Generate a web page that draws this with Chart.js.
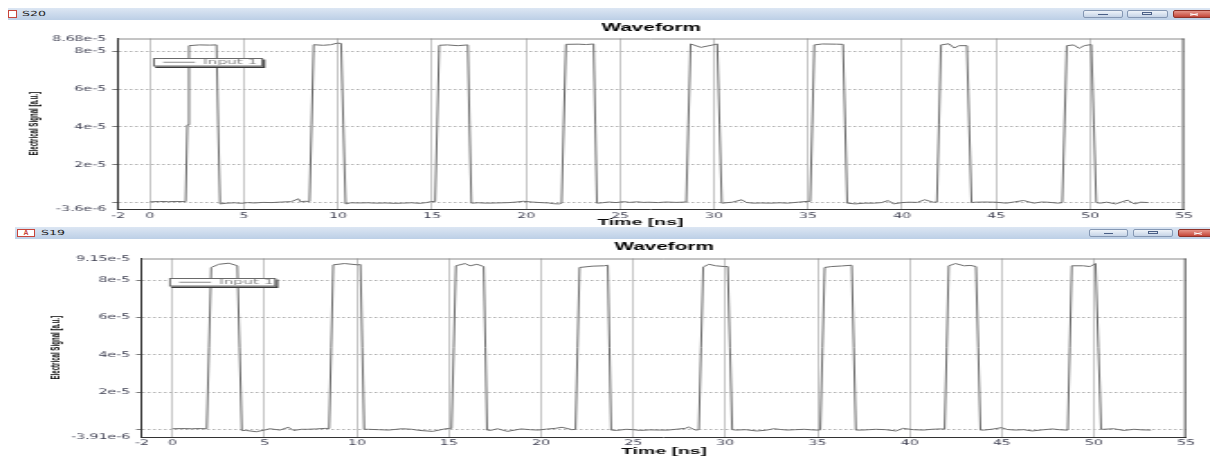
<!DOCTYPE html>
<html>
<head>
<meta charset="utf-8">
<title>Waveform S20 / S19</title>
<script src="https://cdn.jsdelivr.net/npm/chart.js@4.4.0/dist/chart.umd.min.js"></script>
<style>
  body { margin: 0; width: 1210px; height: 457px; background: #fff; overflow: hidden; position: relative; font-family: 'DejaVu Sans', sans-serif; }
  .bar { position: absolute; right: 0; background: linear-gradient(#dce6f3, #bccfe6); }
  .icon { position: absolute; background: #fff; border: 1px solid #c8453a; box-sizing: border-box; color: #c8453a; font: bold 7px 'Liberation Sans', sans-serif; line-height: 6px; text-align: center; }
  .cap { position: absolute; font-size: 7px; line-height: 8px; color: #222; transform: scaleX(1.8); transform-origin: 0 0; }
  .btn { position: absolute; height: 8px; box-sizing: border-box; border: 1px solid #8497b3; border-radius: 2px; background: linear-gradient(#eef3f9, #c6d4e7); }
  .btn.min::after { content: ''; position: absolute; left: 38%; width: 24%; top: 3px; height: 1px; background: #4a5f86; }
  .btn.max::after { content: ''; position: absolute; left: 36%; width: 26%; top: 1px; height: 3px; border: 1px solid #4a5f86; box-sizing: border-box; }
  .btn.close { border-color: #8e3128; background: linear-gradient(#e6958a, #c4473a); }
  .btn.close::before, .btn.close::after { content: ''; position: absolute; left: 40%; width: 20%; top: 2.5px; height: 1.2px; background: #fff; }
  .btn.close::before { transform: rotate(12deg); }
  .btn.close::after { transform: rotate(-12deg); }
  .plot { position: absolute; left: 0; width: 672px; transform: scaleX(1.8006); transform-origin: 0 0; }
</style>
</head>
<body>
  <div class="plot" style="top:20px; height:210px;"><canvas id="s20Chart"></canvas></div>
  <div class="bar" style="left:8px; top:8px; height:12px;"></div>
  <div class="icon" style="left:8px; top:10px; width:9px; height:8px;"></div>
  <div class="cap" style="left:22px; top:10px;">S20</div>
  <div class="btn min" style="left:1083px; top:10px; width:40px;"></div>
  <div class="btn max" style="left:1127px; top:10px; width:41px;"></div>
  <div class="btn close" style="left:1173px; top:10px; width:42px;"></div>

  <div class="plot" style="top:239px; height:218px;"><canvas id="s19Chart"></canvas></div>
  <div class="bar" style="left:15px; top:227px; height:11.5px;"></div>
  <div class="icon" style="left:17px; top:229px; width:18px; height:8px;">A</div>
  <div class="cap" style="left:41px; top:229px;">S19</div>
  <div class="btn min" style="left:1089px; top:229px; width:39px;"></div>
  <div class="btn max" style="left:1133px; top:229px; width:40px;"></div>
  <div class="btn close" style="left:1178px; top:229px; width:40px;"></div>

<script>
const xAxisTitle = 'Time [ns]';
const yAxisTitle = 'Electrical Signal [a.u.]';

// Tick positions and labels (the left edge of each plot is labelled "-2")
const xTickLabels = ['-2', '0', '5', '10', '15', '20', '25', '30', '35', '40', '45', '50', '55'];
const s20XTicks = [-1.7, 0, 5, 10, 15, 20, 25, 30, 35, 40, 45, 50, 55];
const s19XTicks = [-1.65, 0, 5, 10, 15, 20, 25, 30, 35, 40, 45, 50, 55];

const s20YTicks = [-3.6e-6, 0, 2e-5, 4e-5, 6e-5, 8e-5, 8.68e-5];
const s20YLabels = ['-3.6e-6', '', '2e-5', '4e-5', '6e-5', '8e-5', '8.68e-5'];
const s19YTicks = [-3.91e-6, 0, 2e-5, 4e-5, 6e-5, 8e-5, 9.15e-5];
const s19YLabels = ['-3.91e-6', '', '2e-5', '4e-5', '6e-5', '8e-5', '9.15e-5'];

// Waveform samples: [time ns, signal in 1e-6 a.u.]
const s20Points = [
  [0, 0.2], [0.5, 0.4], [0.97, 0.3], [1.4, 0.4], [1.89, 0.3], [1.98, 41], [2.07, 83.0], [2.62, 83.4], [3.17, 83.3], [3.53, 83.4],
  [3.62, 41], [3.72, -0.9], [4.08, -0.5], [4.5, -0.3], [4.82, -0.6], [5.2, -0.2], [5.55, -0.4], [6.0, -0.1], [6.47, -0.2], [7.0, 0.1],
  [7.5, 0.3], [7.89, 1.8], [8.0, 0.2], [8.21, 0.5], [8.48, 0.4], [8.59, 41], [8.70, 83.5], [9.21, 83.2], [9.6, 83.5], [9.95, 84.3],
  [10.16, 84.2], [10.28, 41], [10.40, -0.9], [10.68, -0.3], [11.1, -0.4], [11.59, -0.3], [12.0, -0.5], [12.51, -0.4], [13.0, -0.6], [13.42, -0.5],
  [13.9, -0.3], [14.34, -0.6], [14.7, -0.2], [14.98, 0.4], [15.16, 0.3], [15.27, 41], [15.38, 83.2], [15.81, 83.4], [16.36, 83.0], [16.90, 83.4],
  [16.99, 41], [17.09, -0.5], [17.45, -0.3], [17.9, -0.5], [18.37, -0.4], [18.8, -0.3], [19.10, -0.2], [19.5, 0.1], [19.84, 0.5], [20.3, 0.1],
  [20.75, -0.2], [21.2, -0.4], [21.48, -0.8], [21.76, -0.9], [21.89, -0.5], [22.0, 41], [22.12, 83.7], [22.77, 83.8], [23.2, 83.6], [23.59, 83.9],
  [23.68, 41], [23.77, -0.5], [24.05, -0.3], [24.4, 0.1], [24.78, -0.2], [25.2, 0.3], [25.51, -0.1], [25.9, 0.2], [26.25, -0.1], [26.53, 0.0],
  [27.0, -0.2], [27.45, 0.1], [28.0, -0.1], [28.52, 0.1], [28.63, 41], [28.75, 83.9], [29.30, 82.1], [29.94, 83.4], [30.17, 83.9], [30.29, 41],
  [30.41, -0.5], [30.96, 0.0], [31.48, 1.3], [31.7, -0.1], [32.07, -0.5], [32.5, -0.4], [32.99, -0.5], [33.5, -0.3], [33.91, -0.5], [34.46, 0.0],
  [35.02, 0.5], [35.11, 0.4], [35.22, 41], [35.33, 83.4], [35.76, 83.9], [36.49, 83.8], [36.86, 83.7], [36.97, 41], [37.08, -0.5], [37.51, -0.9],
  [38.0, -0.5], [38.52, -0.5], [38.9, -0.2], [39.26, 0.9], [39.54, -0.9], [40.0, -0.2], [40.37, 0.0], [40.8, -0.1], [41.20, 1.3], [41.66, 0.0],
  [41.85, 0.1], [41.96, 41], [42.07, 83.4], [42.49, 84.0], [42.77, 81.8], [43.04, 83.0], [43.45, 83.0], [43.57, 41], [43.69, -0.2], [43.87, 0.0],
  [44.4, 0.1], [44.98, 0.0], [45.54, -0.5], [46.0, 0.2], [46.46, 0.9], [47.01, -0.5], [47.4, 0.1], [47.75, 0.0], [48.30, -0.5], [48.52, -0.2],
  [48.64, 41], [48.76, 83.0], [49.13, 83.4], [49.41, 81.6], [49.69, 83.0], [50.06, 83.6], [50.2, 41], [50.33, -0.2], [50.52, -0.5], [50.9, 0.0],
  [51.35, -0.9], [51.99, 1.1], [52.36, -0.9], [52.7, 0.0], [53.10, -0.2]
];

const s19Points = [
  [0, 0.5], [0.5, 0.6], [1.03, 0.5], [1.5, 0.6], [1.86, 0.5], [1.98, 44], [2.10, 86.7], [2.51, 88.4], [3.06, 89.0], [3.52, 87.6],
  [3.64, 44], [3.76, -0.5], [3.98, -0.4], [4.54, -1.1], [5.0, -0.2], [5.27, 0.5], [5.83, -0.2], [6.29, 1.3], [6.56, -0.4], [7.0, 0.2],
  [7.30, 0.2], [7.8, 0.4], [8.31, 0.7], [8.50, 0.6], [8.61, 44], [8.72, 88.1], [9.33, 88.8], [10.07, 88.1], [10.20, 88.3], [10.30, 44],
  [10.40, 0.2], [10.62, 0.2], [11.2, 0.0], [11.73, -0.2], [12.46, 0.5], [13.0, 0.2], [13.39, -0.4], [14.12, -0.9], [14.77, 0.4], [15.04, 0.7],
  [15.14, 0.7], [15.26, 44], [15.38, 87.6], [15.87, 88.8], [16.15, 87.6], [16.52, 88.4], [16.89, 87.2], [16.98, 44], [17.07, -0.2], [17.26, -0.4],
  [17.63, 0.5], [18.18, -0.9], [18.92, 0.4], [19.4, 0.0], [19.84, -0.2], [20.3, 0.3], [20.76, 0.7], [21.13, 1.3], [21.69, 0.0], [21.87, 0.2],
  [21.98, 44], [22.09, 86.7], [22.79, 87.4], [23.43, 87.6], [23.62, 87.9], [23.71, 44], [23.80, -0.2], [24.08, -0.4], [24.63, 0.2], [25.0, 0.0],
  [25.37, -0.4], [25.9, -0.1], [26.47, -0.2], [26.9, -0.2], [27.4, 0.3], [27.82, 0.7], [28.0, 1.4], [28.38, -0.2], [28.56, 0.0], [28.68, 44],
  [28.80, 87.0], [29.11, 88.4], [29.48, 87.6], [29.94, 87.2], [30.13, 87.2], [30.25, 44], [30.37, 0.0], [30.59, -0.2], [31.1, 0.0], [31.70, -0.7],
  [32.2, -0.3], [32.62, 0.5], [33.0, 0.1], [33.36, -0.2], [33.8, 0.0], [34.28, 0.2], [34.7, -0.1], [35.02, -0.2], [35.15, -0.1], [35.27, 44],
  [35.39, 86.7], [35.76, 87.2], [36.3, 87.5], [36.86, 87.9], [36.97, 44], [37.08, -0.2], [37.42, -0.2], [37.8, 0.0], [38.15, 0.2], [38.7, 0.0],
  [39.26, -0.7], [39.63, 0.7], [40.2, 0.0], [40.74, -0.2], [41.2, 0.2], [41.66, 0.4], [41.90, 0.3], [42.01, 44], [42.12, 87.6], [42.49, 88.8],
  [42.95, 87.6], [43.3, 87.8], [43.60, 87.2], [43.72, 44], [43.84, -0.2], [44.06, -0.2], [44.5, 0.3], [44.98, 1.1], [45.3, 0.1], [45.72, -0.2],
  [46.2, 0.0], [46.64, -0.7], [47.2, -0.1], [47.75, 0.4], [48.1, 0.0], [48.49, -0.2], [48.58, -0.1], [48.69, 44], [48.80, 87.6], [49.41, 87.6],
  [49.78, 87.2], [50.09, 88.8], [50.24, 44], [50.39, 0.2], [50.52, 0.2], [51.07, 0.5], [51.62, -0.4], [52.18, 0.2], [52.6, -0.1], [53.10, -0.2]
];

// Frame lines, squeezed axis titles and the boxed legend inside the plot
const framePlugin = {
    id: 'frame',
    afterDraw(chart, args, opts) {
        const ctx = chart.ctx;
        const a = chart.chartArea;
        ctx.save();
        ctx.lineWidth = 1;
        ctx.strokeStyle = '#8a8a8a';
        ctx.beginPath();
        ctx.moveTo(a.left, a.top + 0.5);
        ctx.lineTo(a.right, a.top + 0.5);
        ctx.stroke();
        ctx.strokeStyle = '#4a4a4a';
        ctx.beginPath();
        ctx.moveTo(a.right - 0.5, a.top);
        ctx.lineTo(a.right - 0.5, a.bottom);
        ctx.stroke();
        ctx.restore();

        // axis titles
        ctx.save();
        ctx.fillStyle = '#0a0a0a';
        ctx.font = 'bold 9px "Liberation Sans"';
        ctx.textAlign = 'center';
        ctx.textBaseline = 'middle';
        ctx.translate((a.left + a.right) / 2 + opts.xTitleDx, a.bottom + opts.xTitleDy);
        ctx.scale(1.2, 1);
        ctx.fillText(xAxisTitle, 0, 0);
        ctx.restore();

        ctx.save();
        ctx.fillStyle = '#000';
        ctx.font = 'bold 9px "Liberation Sans"';
        ctx.textAlign = 'center';
        ctx.textBaseline = 'middle';
        ctx.translate(opts.yTitleX, (a.top + a.bottom) / 2);
        ctx.rotate(-Math.PI / 2);
        ctx.scale(0.68, 0.78);
        ctx.fillText(yAxisTitle, 0, 0);
        ctx.restore();

        // legend
        const x = a.left + opts.legendX;
        const y = a.top + opts.legendY;
        const w = opts.legendW;
        const h = 8.5;
        ctx.save();
        ctx.lineWidth = 1;
        ctx.fillStyle = '#3a3a3a';
        ctx.fillRect(x + 1.2, y + 1.5, w, h);
        ctx.fillStyle = '#fff';
        ctx.fillRect(x, y, w, h);
        ctx.strokeStyle = '#6a6a6a';
        ctx.strokeRect(x + 0.5, y + 0.5, w - 1, h - 1);
        ctx.strokeStyle = '#8c8c8c';
        ctx.beginPath();
        ctx.moveTo(x + 5.6, y + h / 2);
        ctx.lineTo(x + 23.3, y + h / 2);
        ctx.stroke();
        ctx.translate(x + 27.8, y + h / 2 + 0.3);
        ctx.scale(1, 0.8);
        ctx.fillStyle = '#858585';
        ctx.font = '8.5px "DejaVu Sans"';
        ctx.textBaseline = 'middle';
        ctx.fillText(chart.data.datasets[0].label, 0, 0);
        ctx.restore();
    }
};

function makeWaveform(canvasId, points, xTicks, yTicks, yLabels, look) {
    const ctx = document.getElementById(canvasId).getContext('2d');
    const tickFont = { family: 'DejaVu Sans', size: 7.8 };
    const isEdge = (c, list) => c.index === 0 || c.index === list.length - 1;

    return new Chart(ctx, {
        type: 'line',
        data: {
            datasets: [{
                label: 'Input 1',
                data: points.map(p => ({ x: p[0], y: p[1] * 1e-6 })),
                borderColor: '#6c6c6c',
                borderWidth: 1,
                pointRadius: 0,
                tension: 0,
                fill: false
            }]
        },
        options: {
            responsive: true,
            maintainAspectRatio: false,
            animation: false,
            events: [],
            layout: { padding: { left: 0, right: look.rightPad, top: 0, bottom: 0 } },
            plugins: {
                legend: { display: false },
                tooltip: { enabled: false },
                title: {
                    display: true,
                    text: 'Waveform',
                    fullSize: false,
                    color: '#000',
                    font: { family: 'Liberation Sans', size: 11.5, weight: 'bold' },
                    padding: look.titlePad
                },
                frame: {
                    legendX: look.legendX, legendY: 19.5, legendW: look.legendW,
                    xTitleDx: look.xTitleDx, xTitleDy: look.xTitleDy, yTitleX: look.yTitleX
                }
            },
            scales: {
                x: {
                    type: 'linear',
                    min: xTicks[0],
                    max: xTicks[xTicks.length - 1],
                    afterBuildTicks: axis => { axis.ticks = xTicks.map(v => ({ value: v })); },
                    afterFit: axis => { axis.height = look.xAxisHeight; },
                    ticks: {
                        autoSkip: false,
                        maxRotation: 0,
                        padding: look.xTickPad,
                        font: tickFont,
                        color: '#3f4052',
                        callback: (value, index) => xTickLabels[index]
                    },
                    grid: {
                        drawTicks: false,
                        lineWidth: 1,
                        color: c => isEdge(c, xTicks) ? 'rgba(0,0,0,0)' : '#c6c6c6'
                    },
                    border: { display: true, color: '#333', width: 1 }
                },
                y: {
                    type: 'linear',
                    min: yTicks[0],
                    max: yTicks[yTicks.length - 1],
                    afterBuildTicks: axis => { axis.ticks = yTicks.map(v => ({ value: v })); },
                    afterFit: axis => { axis.width = look.plotLeft; },
                    ticks: {
                        autoSkip: false,
                        padding: 3.4,
                        font: tickFont,
                        color: '#3f4052',
                        callback: (value, index) => yLabels[index]
                    },
                    grid: {
                        drawTicks: true,
                        tickLength: 3.3,
                        lineWidth: 1,
                        color: c => isEdge(c, yTicks) ? 'rgba(0,0,0,0)' : '#b2b2b2',
                        tickColor: c => isEdge(c, yTicks) ? 'rgba(0,0,0,0)' : '#7a7a7a'
                    },
                    border: { display: true, color: '#333', width: 1, dash: [1.5, 1.5] }
                }
            }
        },
        plugins: [framePlugin]
    });
}

makeWaveform('s20Chart', s20Points, s20XTicks, s20YTicks, s20YLabels, {
    plotLeft: 65.6, rightPad: 14.4, titlePad: { top: 0.6, bottom: 4.1 },
    xAxisHeight: 21, xTickPad: 2, xTitleDx: -6, xTitleDy: 13.6, yTitleX: 18.9,
    legendX: 19.4, legendW: 61.1
});

makeWaveform('s19Chart', s19Points, s19XTicks, s19YTicks, s19YLabels, {
    plotLeft: 78.9, rightPad: 13.3, titlePad: { top: 0.6, bottom: 5.1 },
    xAxisHeight: 20, xTickPad: 1.6, xTitleDx: 0, xTitleDy: 14.6, yTitleX: 30.6,
    legendX: 15, legendW: 59.4
});
</script>
</body>
</html>
